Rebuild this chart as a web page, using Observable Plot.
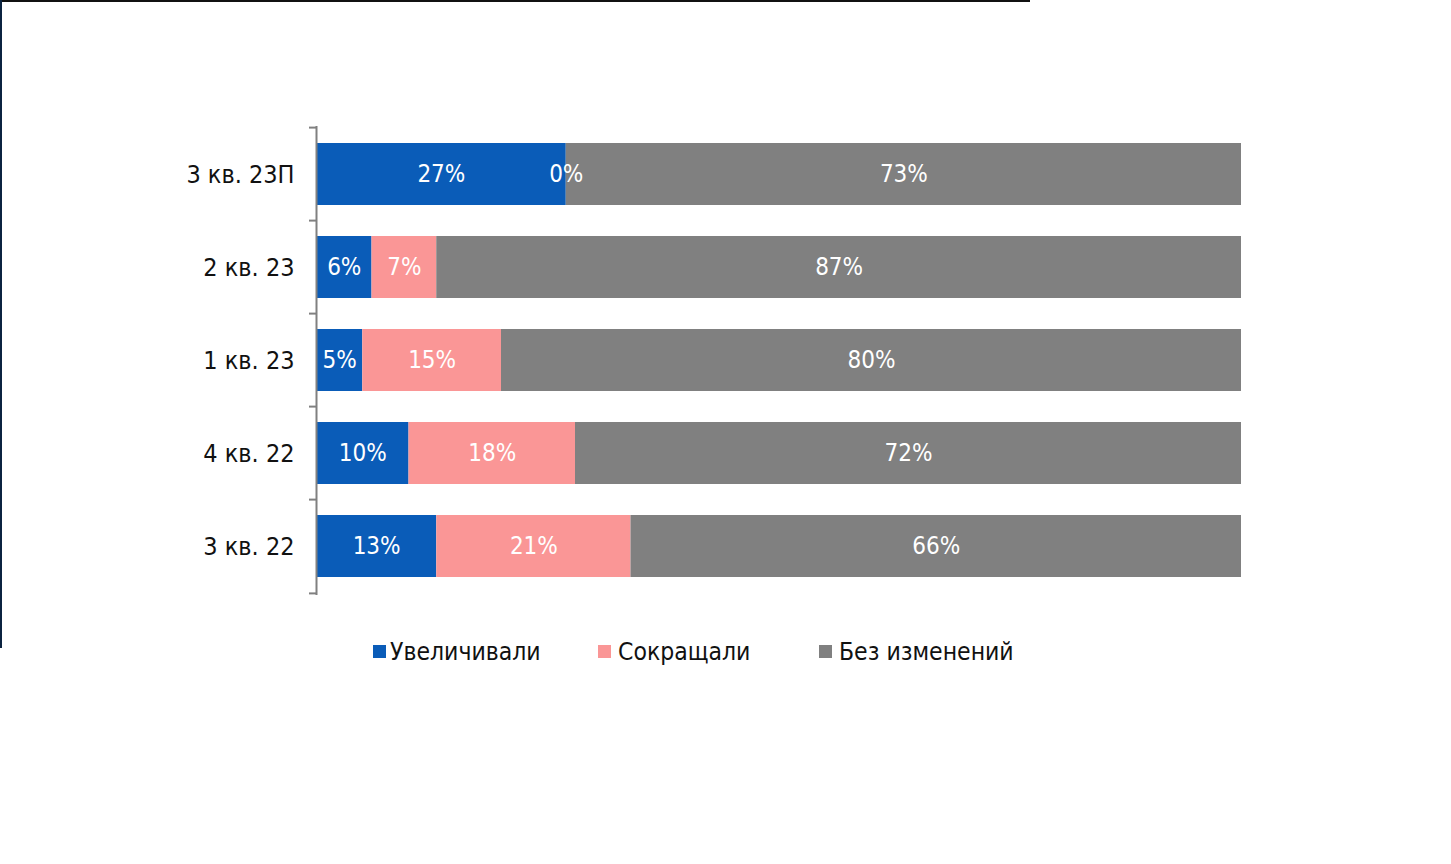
<!DOCTYPE html>
<html>
<head>
<meta charset="utf-8">
<script src="https://cdn.jsdelivr.net/npm/d3@7"></script>
<script src="https://cdn.jsdelivr.net/npm/@observablehq/plot@0.6"></script>
<style>
  html, body { margin: 0; padding: 0; background: #fff; }
  #wrap { position: relative; width: 1451px; height: 864px; overflow: hidden;
          font-family: "DejaVu Sans Condensed", "Liberation Sans", sans-serif; }
  #topline { position: absolute; left: 0; top: 0; width: 1030px; height: 2px; background: #111; }
  #leftline { position: absolute; left: 0; top: 0; width: 2px; height: 648px; background: #0b2340; }
  #chart { position: absolute; left: 0; top: 0; }
  #legend { position: absolute; top: 634px; left: 0; width: 1451px; height: 34px; }
  .item { position: absolute; top: 0; display: flex; align-items: center; height: 34px;
          font-size: 24.5px; color: #111; white-space: nowrap; }
  .sw { width: 13px; height: 13px; margin-right: 4px; display: inline-block; }
</style>
</head>
<body>
<div id="wrap">
  <div id="chart"></div>
  <div id="legend"></div>
  <div id="topline"></div>
  <div id="leftline"></div>
</div>
<script>
const categories = ["3 кв. 23П", "2 кв. 23", "1 кв. 23", "4 кв. 22", "3 кв. 22"];
const seriesNames = ["Увеличивали", "Сокращали", "Без изменений"];
const increased = [27, 6, 5, 10, 13];
const decreased = [0, 7, 15, 18, 21];
const unchanged = [73, 87, 80, 72, 66];
const seriesColors = ["#0a5cb8", "#fa9696", "#808080"];

const seriesValues = [increased, decreased, unchanged];
const rows = [];
categories.forEach((c, i) => {
  seriesNames.forEach((s, j) => {
    rows.push({cat: c, series: s, value: seriesValues[j][i]});
  });
});

const W = 1451, H = 620;
const mTop = 126, mBottom = 25, mLeft = 316, mRight = 210;
const step = (H - mTop - mBottom) / categories.length;

const font = "'DejaVu Sans Condensed', 'Liberation Sans', sans-serif";

const chart = Plot.plot({
  width: W,
  height: H,
  marginTop: mTop,
  marginBottom: mBottom,
  marginLeft: mLeft,
  marginRight: mRight,
  style: {fontFamily: font, background: "transparent", overflow: "visible"},
  x: {domain: [0, 100], axis: null},
  y: {domain: categories, padding: 0.33, paddingOuter: 0.165, label: null},
  color: {domain: seriesNames, range: seriesColors},
  marks: [
    Plot.barX(rows, Plot.stackX({x: "value", y: "cat", fill: "series"})),
    Plot.text(rows, Plot.stackX({
      x: "value", y: "cat", z: "series",
      text: d => d.value + "%",
      fill: "white", fontSize: 24
    })),
    Plot.ruleX([0], {stroke: "#808080", strokeWidth: 2}),
    Plot.axisY({tickSize: 0, tickPadding: 22, fontSize: 25, fill: "#111", label: null}),
    Plot.axisY({text: null, tickSize: 7, stroke: "#808080", strokeWidth: 2, dy: -step / 2, label: null}),
    Plot.axisY({ticks: [categories[categories.length - 1]], text: null, tickSize: 7, stroke: "#808080", strokeWidth: 2, dy: step / 2, label: null})
  ]
});
document.getElementById("chart").appendChild(chart);

const legend = document.getElementById("legend");
const legendX = [373, 598, 819];
seriesNames.forEach((s, i) => {
  const it = document.createElement("div");
  it.className = "item";
  it.style.left = legendX[i] + "px";
  const sw = document.createElement("span");
  sw.className = "sw";
  sw.style.background = seriesColors[i];
  if (i > 0) sw.style.marginRight = "7px";
  it.appendChild(sw);
  const t = document.createElement("span");
  t.textContent = s;
  it.appendChild(t);
  legend.appendChild(it);
});
</script>
</body>
</html>
